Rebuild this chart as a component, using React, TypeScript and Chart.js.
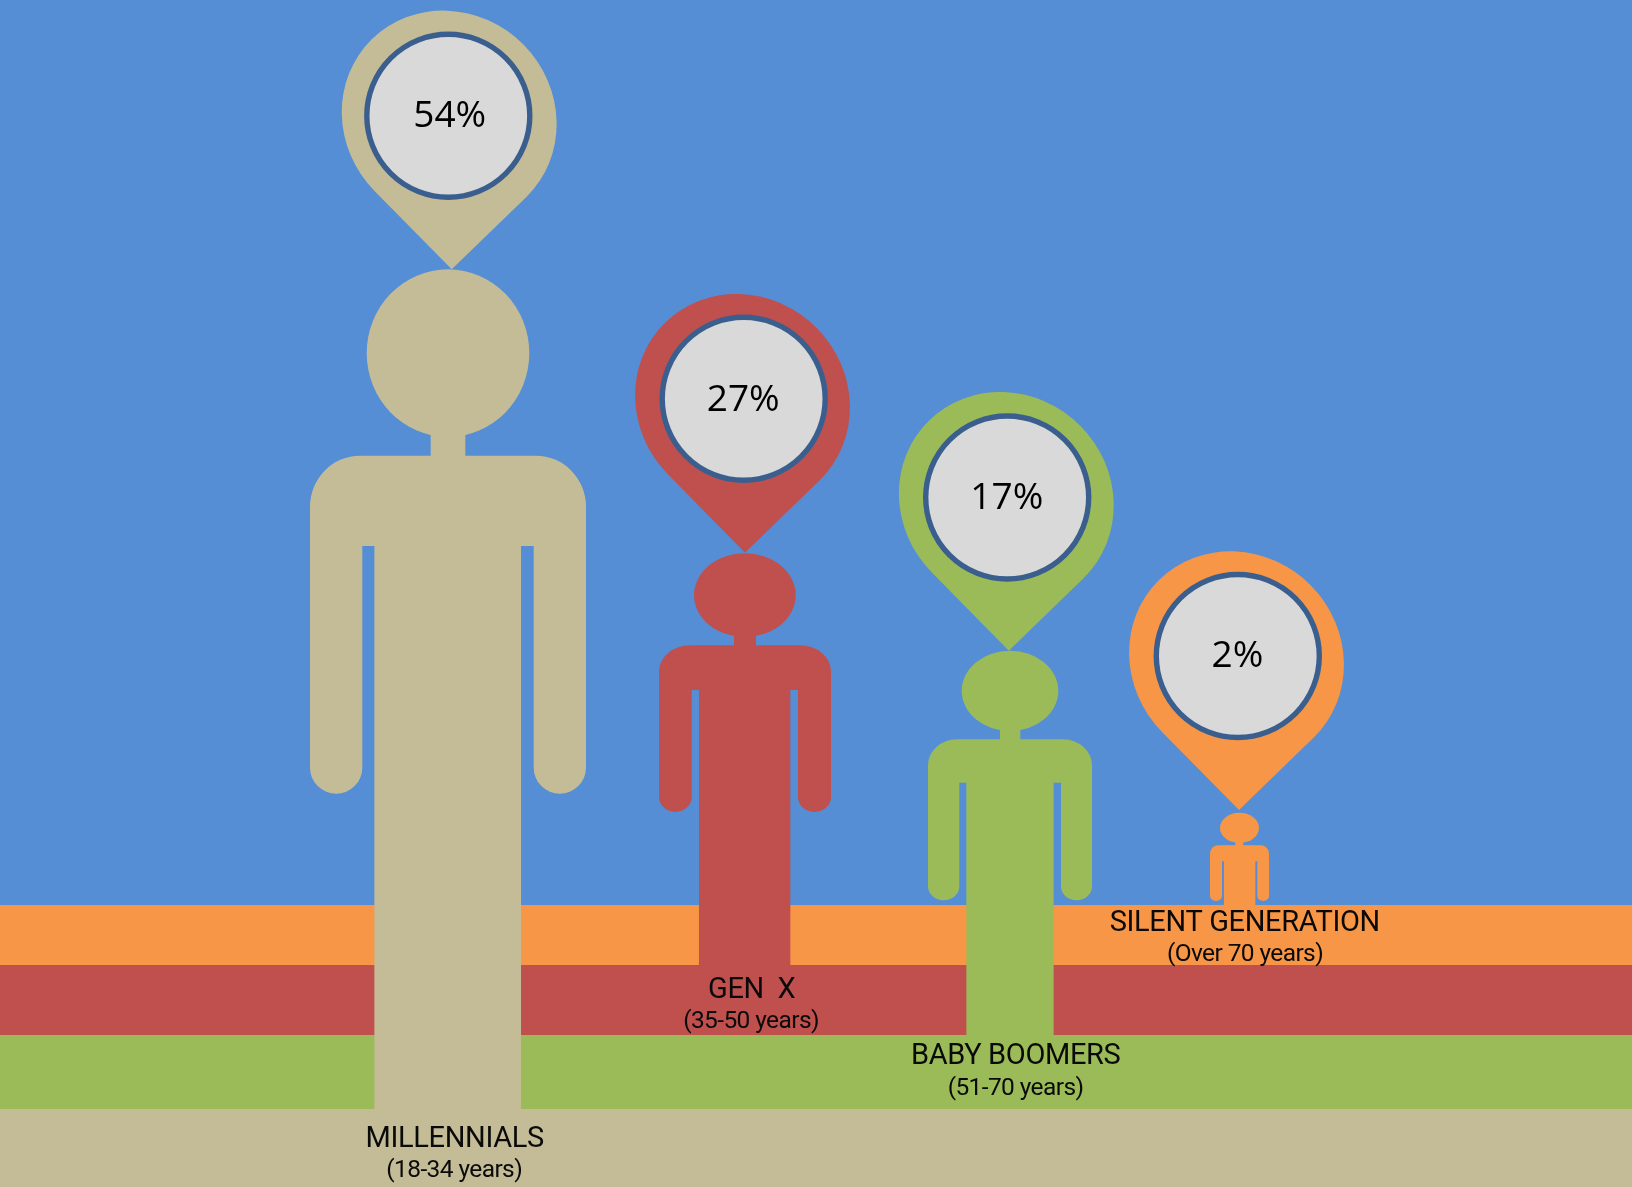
import React, { useEffect, useRef } from "react";
import { Chart, registerables } from "chart.js";

Chart.register(...registerables);

const WIDTH = 1632;
const HEIGHT = 1187;

// Generations, front to back
const generations = ["MILLENNIALS", "GEN  X", "BABY BOOMERS", "SILENT GENERATION"];
const ageRanges = ["(18-34 years)", "(35-50 years)", "(51-70 years)", "(Over 70 years)"];
const shares = [54, 27, 17, 2];
const colors = ["#C4BC96", "#C0504D", "#9BBB59", "#F79646"];

// Ground bands, sky first
const bandTop = [0, 905, 965, 1035, 1109];
const bandBottom = [905, 965, 1035, 1109, 1187];
const bandColors = ["#558ED5", "#F79646", "#C0504D", "#9BBB59", "#C4BC96"];

// Figure outlines on the chart's axes
const headLeft = [366.7, 694, 961.7, 1220];
const headRight = [529.3, 795.7, 1058.3, 1259];
const headTop = [269.3, 553.3, 650.7, 812.7];
const headBottom = [437, 637, 731, 843];
const neckLeft = [430.7, 734, 1000, 1235.3];
const neckRight = [465.3, 756, 1020.3, 1243.3];
const shoulderY = [455.7, 645.3, 739.3, 845.3];
const bodyLeft = [310, 659, 928, 1210];
const bodyRight = [586, 831, 1092, 1269];
const armpitY = [546, 690, 782.7, 861.3];
const armInnerLeft = [362.3, 691.7, 959.3, 1222];
const armInnerRight = [533.7, 798, 1061, 1257.3];
const torsoLeft = [374.7, 699.3, 966.7, 1224.3];
const torsoRight = [520.7, 790, 1053.3, 1255];
const handY = [793.7, 812, 900.3, 901];
const footY = [1109, 965, 1035, 905];
const shoulderRx = [50, 31, 29, 8];
const shoulderRy = [51, 26, 26, 8];
const handRy = [26, 15, 14, 5];

// Marker tips above each head, and the disc set into each marker
const pinTipX = [451.7, 745, 1008.8, 1239];
const pinTipY = [269.3, 552.7, 650.7, 810];
const discX = [448.3, 743.7, 1007.2, 1237.8];
const discY = [115.7, 398.7, 497.5, 656];
const shareTextX = [449.7, 743.2, 1006.8, 1237.4];
const shareTextY = [126.9, 410.6, 508.9, 667.2];

// Caption placement on the chart's axes
const captionX = [454.7, 751.7, 1015.7, 1244.8];
const captionY = [1146.7, 998.3, 1064.3, 930.7];
const subCaptionX = [454.2, 751, 1015.5, 1245];
const subCaptionY = [1177, 1028, 1095, 960.7];

const figurePlugin = {
  id: "figures",
  afterDatasetsDraw(chart: any) {
    const { ctx, scales } = chart;
    const px = (v: number) => scales.x.getPixelForValue(v);
    const py = (v: number) => scales.y.getPixelForValue(v);

    generations.forEach((name, i) => {
      ctx.save();
      ctx.fillStyle = colors[i];

      // Head
      ctx.beginPath();
      ctx.ellipse(
        px((headLeft[i] + headRight[i]) / 2),
        py((headTop[i] + headBottom[i]) / 2),
        (headRight[i] - headLeft[i]) / 2,
        (headBottom[i] - headTop[i]) / 2,
        0, 0, Math.PI * 2
      );
      ctx.fill();

      // Neck
      ctx.fillRect(px(neckLeft[i]), py(headBottom[i] - 6), neckRight[i] - neckLeft[i], shoulderY[i] - headBottom[i] + 8);

      // Shoulders and arms
      const rx = shoulderRx[i];
      const ry = shoulderRy[i];
      const armL = (armInnerLeft[i] - bodyLeft[i]) / 2;
      const armR = (bodyRight[i] - armInnerRight[i]) / 2;
      const endY = handY[i] - handRy[i];
      ctx.beginPath();
      ctx.moveTo(px(bodyLeft[i]), py(shoulderY[i] + ry));
      ctx.ellipse(px(bodyLeft[i] + rx), py(shoulderY[i] + ry), rx, ry, 0, Math.PI, Math.PI * 1.5);
      ctx.lineTo(px(bodyRight[i] - rx), py(shoulderY[i]));
      ctx.ellipse(px(bodyRight[i] - rx), py(shoulderY[i] + ry), rx, ry, 0, Math.PI * 1.5, Math.PI * 2);
      ctx.lineTo(px(bodyRight[i]), py(endY));
      ctx.ellipse(px(bodyRight[i] - armR), py(endY), armR, handRy[i], 0, 0, Math.PI);
      ctx.lineTo(px(armInnerRight[i]), py(armpitY[i]));
      ctx.lineTo(px(armInnerLeft[i]), py(armpitY[i]));
      ctx.lineTo(px(armInnerLeft[i]), py(endY));
      ctx.ellipse(px(bodyLeft[i] + armL), py(endY), armL, handRy[i], 0, 0, Math.PI);
      ctx.closePath();
      ctx.fill();

      // Marker: a slanted ellipse drawn out to a tip
      const cx = px(pinTipX[i] - 2.5);
      const cy = py(pinTipY[i] - 151.3);
      const rot = Math.PI / 4;
      const a = 110.4;
      const b = 104.4;
      const dx = px(pinTipX[i]) - cx;
      const dy = py(pinTipY[i]) - cy;
      const ux = (dx * Math.cos(rot) + dy * Math.sin(rot)) / a;
      const uy = (-dx * Math.sin(rot) + dy * Math.cos(rot)) / b;
      const phi = Math.atan2(uy, ux);
      const delta = Math.acos(1 / Math.hypot(ux, uy));
      ctx.beginPath();
      ctx.ellipse(cx, cy, a, b, rot, phi + delta, phi - delta + Math.PI * 2);
      ctx.lineTo(px(pinTipX[i]), py(pinTipY[i]));
      ctx.closePath();
      ctx.fill();

      // Marker disc
      ctx.beginPath();
      ctx.arc(px(discX[i]), py(discY[i]), 81.5, 0, Math.PI * 2);
      ctx.fillStyle = "#D9D9D9";
      ctx.fill();
      ctx.lineWidth = 5.4;
      ctx.strokeStyle = "#3A5F8F";
      ctx.stroke();

      // Share of the population
      ctx.fillStyle = "#000000";
      ctx.textAlign = "center";
      ctx.textBaseline = "alphabetic";
      ctx.font = "37px 'Open Sans'";
      ctx.fillText(`${shares[i]}%`, px(shareTextX[i]), py(shareTextY[i]));

      // Captions
      ctx.fillStyle = "#0a0a0a";
      ctx.font = "400 29px Roboto";
      ctx.letterSpacing = "-0.35px";
      ctx.fillText(name, px(captionX[i]), py(captionY[i]));
      ctx.font = "400 24.5px Roboto";
      ctx.letterSpacing = "-0.6px";
      ctx.fillText(ageRanges[i], px(subCaptionX[i]), py(subCaptionY[i]));
      ctx.restore();
    });
  },
};

export default function App() {
  const canvasRef = useRef<HTMLCanvasElement | null>(null);

  useEffect(() => {
    const canvas = canvasRef.current;
    if (!canvas) return;

    const bands = bandTop.map((top, i) => ({
      type: "line" as const,
      label: `band ${i}`,
      data: [
        { x: 0, y: top },
        { x: WIDTH, y: top },
      ],
      borderWidth: 0,
      pointRadius: 0,
      backgroundColor: bandColors[i],
      fill: { value: bandBottom[i] },
      order: 10,
    }));

    const torsos = generations.map((name, i) => ({
      type: "bar" as const,
      label: name,
      data: [{ x: (torsoLeft[i] + torsoRight[i]) / 2, y: [shoulderY[i] + 4, footY[i]] }],
      backgroundColor: colors[i],
      barThickness: torsoRight[i] - torsoLeft[i],
      borderWidth: 0,
      grouped: false,
      order: 1 + i / 10,
    }));

    const chart = new Chart(canvas, {
      type: "bar",
      data: { datasets: [...bands, ...torsos] as any },
      options: {
        responsive: false,
        animation: false,
        events: [],
        layout: { padding: 0 },
        plugins: { legend: { display: false }, tooltip: { enabled: false } },
        scales: {
          x: { type: "linear", min: 0, max: WIDTH, display: false, offset: false },
          y: { type: "linear", min: 0, max: HEIGHT, reverse: true, display: false },
        },
      },
      plugins: [figurePlugin],
    });

    return () => chart.destroy();
  }, []);

  return (
    <div style={{ position: "absolute", left: 0, top: 0, width: WIDTH, height: HEIGHT }}>
      <canvas ref={canvasRef} width={WIDTH} height={HEIGHT} style={{ display: "block" }} />
    </div>
  );
}
